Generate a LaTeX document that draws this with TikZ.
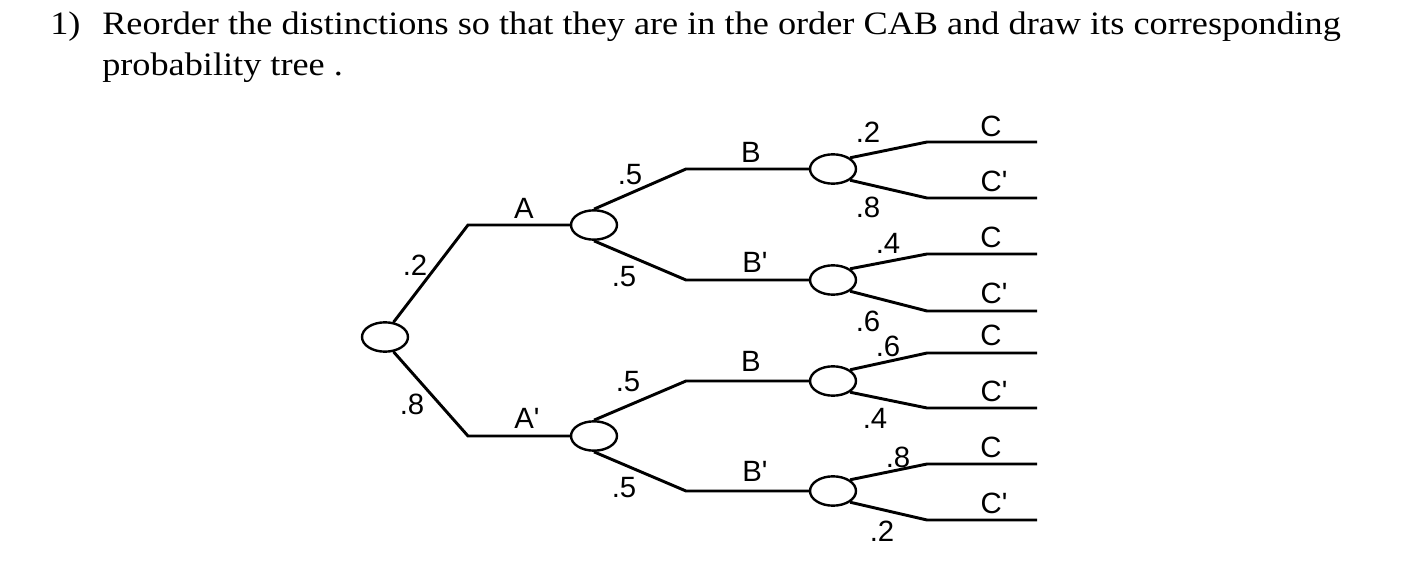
\documentclass[tikz,border=0pt]{standalone}
\usepackage{fontspec}
\setmainfont{Liberation Serif}
\newfontfamily\ttlf[FakeStretch=1.11]{Liberation Serif}
\newfontfamily\arialf{Liberation Sans}
\usetikzlibrary{shapes.geometric}
\newcommand{\pr}{\textquotesingle}
\begin{document}
\begin{tikzpicture}[x=0.75pt,y=-0.75pt,
  chance/.style={ellipse,draw,line width=1.8pt,minimum width=34.5pt,minimum height=22pt,inner sep=0pt},
  branch/.style={line width=2.2pt,line join=miter},
  lbl/.style={font=\arialf\fontsize{22}{24}\selectfont,inner sep=0pt},
  ttl/.style={font=\ttlf\fontsize{24.5}{29}\selectfont,inner sep=0pt,anchor=base west}]
\useasboundingbox (0,0) rectangle (1428,578);
% title
\node[ttl] (num) at (50,34) {1)};
\node[ttl] (t1) at (102,34) {Reorder the distinctions so that they are in the order CAB and draw its corresponding};
\node[ttl] (t2) at (102,75) {probability tree .};
% chance nodes
\node[chance] (R) at (385,337) {};
\node[chance] (A) at (594,225) {};
\node[chance] (Ap) at (594,436) {};
\node[chance] (B1) at (833,169) {};
\node[chance] (B2) at (833,280) {};
\node[chance] (B3) at (833,381) {};
\node[chance] (B4) at (833,491) {};
% bends
\coordinate (ka) at (468,225);
\coordinate (kap) at (468,436);
\coordinate (k1) at (686,169);
\coordinate (k2) at (686,280);
\coordinate (k3) at (686,381);
\coordinate (k4) at (686,491);
\coordinate (c1u) at (927,142); \coordinate (e1u) at (1037,142);
\coordinate (c1d) at (927,198); \coordinate (e1d) at (1037,198);
\coordinate (c2u) at (927,254); \coordinate (e2u) at (1037,254);
\coordinate (c2d) at (927,311); \coordinate (e2d) at (1037,311);
\coordinate (c3u) at (927,353); \coordinate (e3u) at (1037,353);
\coordinate (c3d) at (927,408); \coordinate (e3d) at (1037,408);
\coordinate (c4u) at (927,464); \coordinate (e4u) at (1037,464);
\coordinate (c4d) at (927,520); \coordinate (e4d) at (1037,520);
% branches
\draw[branch] (R.60) -- (ka) -- (A);
\draw[branch] (R.-60) -- (kap) -- (Ap);
\draw[branch] (A.north) -- (k1) -- (B1);
\draw[branch] (A.south) -- (k2) -- (B2);
\draw[branch] (Ap.north) -- (k3) -- (B3);
\draw[branch] (Ap.south) -- (k4) -- (B4);
\foreach \i in {1,2,3,4}{
  \draw[branch] (B\i.north east) -- (c\i u) -- (e\i u);
  \draw[branch] (B\i.south east) -- (c\i d) -- (e\i d);
}
% labels
\node[lbl] (lA) at (524,208) {A};
\node[lbl] (lAp) at (527,418) {A\pr};
\node[lbl] (p2) at (415,265) {.2};
\node[lbl] (p8) at (412,404) {.8};
\node[lbl] (q1) at (630,175) {.5};
\node[lbl] (q2) at (624,277) {.5};
\node[lbl] (q3) at (628,382) {.5};
\node[lbl] (q4) at (624,488) {.5};
\node[lbl] (lB1) at (751,152) {B};
\node[lbl] (lB2) at (755,262) {B\pr};
\node[lbl] (lB3) at (751,361) {B};
\node[lbl] (lB4) at (755,471) {B\pr};
\node[lbl] (r1) at (868,132) {.2};
\node[lbl] (r2) at (868,207) {.8};
\node[lbl] (r3) at (888,243) {.4};
\node[lbl] (r4) at (868,321) {.6};
\node[lbl] (r5) at (888,346) {.6};
\node[lbl] (r6) at (875,418) {.4};
\node[lbl] (r7) at (898,457) {.8};
\node[lbl] (r8) at (882,531) {.2};
\node[lbl] (s1) at (991,126) {C};
\node[lbl] (s2) at (994,181) {C\pr};
\node[lbl] (s3) at (991,237) {C};
\node[lbl] (s4) at (994,293) {C\pr};
\node[lbl] (s5) at (991,335) {C};
\node[lbl] (s6) at (994,391) {C\pr};
\node[lbl] (s7) at (991,447) {C};
\node[lbl] (s8) at (994,503) {C\pr};
\end{tikzpicture}
\end{document}
